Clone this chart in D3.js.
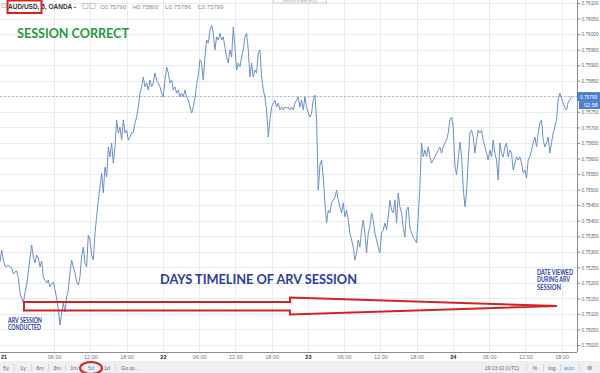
<!DOCTYPE html>
<html>
<head>
<meta charset="utf-8">
<script src="https://cdn.jsdelivr.net/npm/d3@7"></script>
<style>
  html, body { margin: 0; padding: 0; background: #fff; }
  svg { display: block; font-family: 'Liberation Sans', Arial, sans-serif; }
</style>
</head>
<body>
<div id="chart-area"></div>
<script>
const width = 600;
const height = 373;

// AUD/USD, 5 min, OANDA - closes at even spacing
const prices = [
  0.75267, 0.75306, 0.75273, 0.75254, 0.75251, 0.75257, 0.75251, 0.75248, 0.75228, 0.75235,
  0.75238, 0.75215, 0.75167, 0.75151, 0.75135, 0.75167, 0.75193, 0.75235, 0.7528, 0.75322,
  0.75283, 0.75264, 0.75289, 0.7528, 0.75251, 0.7527, 0.75219, 0.75209, 0.75199, 0.75209,
  0.75187, 0.75196, 0.75203, 0.75177, 0.75151, 0.75113, 0.75064, 0.75103, 0.75135, 0.75106,
  0.75154, 0.75177, 0.75232, 0.75273, 0.75251, 0.75232, 0.75203, 0.75193, 0.75219, 0.75286,
  0.75315, 0.75264, 0.75251, 0.75354, 0.75338, 0.75289, 0.75273, 0.7536, 0.75412, 0.75466,
  0.75508, 0.75553, 0.75489, 0.75572, 0.7554, 0.75637, 0.75605, 0.7565, 0.75585, 0.75637,
  0.75724, 0.75682, 0.75701, 0.75659, 0.75724, 0.75682, 0.75691, 0.75659, 0.75669, 0.75682,
  0.75682, 0.75714, 0.75733, 0.75765, 0.7581, 0.7583, 0.75862, 0.7583, 0.75843, 0.7582,
  0.75852, 0.7583, 0.75843, 0.75875, 0.75852, 0.75843, 0.7583, 0.7581, 0.75798, 0.75852,
  0.75894, 0.75875, 0.75843, 0.75852, 0.7582, 0.7583, 0.7581, 0.7582, 0.75798, 0.7581,
  0.75798, 0.7582, 0.75798, 0.75788, 0.75765, 0.75746, 0.75765, 0.75794, 0.75836, 0.75868,
  0.75917, 0.75907, 0.75852, 0.75926, 0.75981, 0.75971, 0.76013, 0.76029, 0.76003, 0.75949,
  0.75991, 0.75981, 0.76003, 0.75981, 0.75991, 0.75958, 0.75926, 0.75907, 0.75949, 0.75926,
  0.76023, 0.75958, 0.75884, 0.75907, 0.75894, 0.75926, 0.75949, 0.75991, 0.76003, 0.75949,
  0.75862, 0.75907, 0.75862, 0.75884, 0.75875, 0.75939, 0.75949, 0.75862, 0.7582, 0.75798,
  0.75756, 0.75669, 0.75724, 0.75765, 0.75778, 0.75788, 0.75765, 0.75778, 0.75756, 0.75765,
  0.75756, 0.75765, 0.75762, 0.75765, 0.75756, 0.75765, 0.75756, 0.75778, 0.75788, 0.75798,
  0.75765, 0.75788, 0.75756, 0.75798, 0.75765, 0.75746, 0.75733, 0.75746, 0.75788, 0.75804,
  0.75724, 0.75498, 0.75579, 0.75595, 0.7554, 0.75457, 0.75392, 0.75434, 0.75425, 0.75457,
  0.75466, 0.75476, 0.75498, 0.75466, 0.75444, 0.75425, 0.75457, 0.75412, 0.75434, 0.75402,
  0.7536, 0.75338, 0.75315, 0.75273, 0.75296, 0.75338, 0.75315, 0.7537, 0.75402, 0.7536,
  0.75296, 0.7536, 0.75379, 0.75425, 0.75402, 0.7536, 0.75338, 0.75315, 0.75296, 0.7536,
  0.7537, 0.75392, 0.7537, 0.75412, 0.75466, 0.75434, 0.75425, 0.75466, 0.75392, 0.75489,
  0.75444, 0.75425, 0.75379, 0.75347, 0.75434, 0.75444, 0.75379, 0.7536, 0.75347, 0.75338,
  0.75328, 0.75412, 0.75508, 0.7565, 0.75605, 0.75627, 0.75605, 0.75637, 0.75605, 0.75585,
  0.75595, 0.75605, 0.75617, 0.75627, 0.75637, 0.75617, 0.75637, 0.7565, 0.75659, 0.75682,
  0.75724, 0.75733, 0.75701, 0.75579, 0.75547, 0.75595, 0.75653, 0.75611, 0.75508, 0.75444,
  0.75489, 0.75595, 0.75682, 0.75691, 0.75669, 0.75617, 0.75659, 0.75691, 0.75682, 0.75691,
  0.75659, 0.75637, 0.75617, 0.75595, 0.75627, 0.75605, 0.75659, 0.75617, 0.75595, 0.75531,
  0.7565, 0.75617, 0.75605, 0.75637, 0.7565, 0.75605, 0.75627, 0.75617, 0.75563, 0.75585,
  0.75605, 0.75595, 0.75605, 0.75585, 0.75553, 0.75563, 0.75537, 0.75595, 0.75605, 0.75627,
  0.7565, 0.75669, 0.75637, 0.75682, 0.75714, 0.75724, 0.75659, 0.75637, 0.7565, 0.75669,
  0.75617, 0.7565, 0.75682, 0.75701, 0.75724, 0.75788, 0.7581, 0.75794, 0.75778, 0.75765,
  0.75756, 0.75781, 0.75788, 0.75799
];
const firstReading = Date.UTC(2017, 10, 20, 21, 2);
const lastVisible = Date.UTC(2017, 10, 24, 20, 33);
const readingEveryMinutes = 16.55;
const lastPrice = 0.75799;
const countdown = '02:58';

const yTicks = [
  0.75, 0.7505, 0.751, 0.7515, 0.752, 0.7525, 0.753, 0.7535, 0.754, 0.7545, 0.755, 0.7555,
  0.756, 0.7565, 0.757, 0.7575, 0.758, 0.7585, 0.759, 0.7595, 0.76, 0.7605, 0.761
];
const xTickTimes = [
  '2017-11-20T21:02Z', '2017-11-21T06:00Z', '2017-11-21T12:00Z', '2017-11-21T18:00Z',
  '2017-11-22T00:00Z', '2017-11-22T06:00Z', '2017-11-22T12:00Z', '2017-11-22T18:00Z',
  '2017-11-23T00:00Z', '2017-11-23T06:00Z', '2017-11-23T12:00Z', '2017-11-23T18:00Z',
  '2017-11-24T00:00Z', '2017-11-24T06:00Z', '2017-11-24T12:00Z', '2017-11-24T18:00Z'
];
const xTickLabels = [
  '21', '06:00', '12:00', '18:00', '22', '06:00', '12:00', '18:00',
  '23', '06:00', '12:00', '18:00', '24', '06:00', '12:00', '18:00'
];
const ohlc = ['O0.75790', 'H0.75800', 'L0.75786', 'C0.75799'];
const rangeButtons = ['5y', '1y', '6m', '3m', '1m', '5d', '1d', 'Go to...'];
const rightButtons = ['19:13:02 (UTC)', '%', 'log', 'auto', '\u2699'];

const paneRight = 577;
const paneBottom = 352;
const red = '#d42222';
const noteBlue = '#2b3ca6';
const fmt = d3.format('.5f');

const svg = d3
  .select('#chart-area')
  .append('svg')
  .attr('width', width)
  .attr('height', height)
  .attr('viewBox', [0, 0, width, height]);

svg.append('rect').attr('width', width).attr('height', height).attr('fill', '#fff');

const x = d3
  .scaleUtc()
  .domain([new Date(firstReading), new Date(lastVisible)])
  .range([0, paneRight]);
const y = d3.scaleLinear().domain([0.75, 0.761]).range([345, 3]);

const data = prices.map((p, i) => ({
  date: new Date(firstReading + i * readingEveryMinutes * 60000),
  price: p,
}));
const tickDates = xTickTimes.map((t) => new Date(t));

// grid
const grid = svg.append('g').attr('stroke', '#e8ecf1').attr('shape-rendering', 'crispEdges');
grid
  .selectAll('line.h')
  .data(yTicks)
  .join('line')
  .attr('class', 'h')
  .attr('x1', 0)
  .attr('x2', paneRight)
  .attr('y1', (d) => Math.round(y(d)) + 0.5)
  .attr('y2', (d) => Math.round(y(d)) + 0.5);
grid
  .selectAll('line.v')
  .data(tickDates.slice(1))
  .join('line')
  .attr('class', 'v')
  .attr('x1', (d) => Math.round(x(d)) + 0.5)
  .attr('x2', (d) => Math.round(x(d)) + 0.5)
  .attr('y1', 0)
  .attr('y2', paneBottom);

// last price dotted line
svg
  .append('line')
  .attr('x1', 0)
  .attr('x2', paneRight)
  .attr('y1', y(lastPrice))
  .attr('y2', y(lastPrice))
  .attr('stroke', '#a6bcdc')
  .attr('stroke-dasharray', '2,2');

// price line
const line = d3
  .line()
  .x((d) => x(d.date))
  .y((d) => y(d.price));
svg
  .append('path')
  .datum(data)
  .attr('d', line)
  .attr('fill', 'none')
  .attr('stroke', '#6a90ca')
  .attr('stroke-width', 1);

// right price axis (the tick under the last price marker is hidden, as in TradingView)
const yAxis = svg
  .append('g')
  .attr('transform', `translate(${paneRight},0)`)
  .call(
    d3
      .axisRight(y)
      .tickValues(yTicks)
      .tickFormat((d) => (Math.abs(d - lastPrice) < 0.0001 ? '' : fmt(d)))
      .tickSize(3)
      .tickSizeOuter(0)
      .tickPadding(1.5)
  );
yAxis.select('.domain').remove();
yAxis.selectAll('line').attr('stroke', '#888');
yAxis
  .selectAll('text')
  .attr('font-size', 5.5)
  .attr('fill', '#666')
  .attr('font-family', 'Liberation Sans')
  .attr('textLength', function () {
    return this.textContent ? 17 : null;
  })
  .attr('lengthAdjust', 'spacingAndGlyphs');
svg
  .append('line')
  .attr('x1', paneRight + 0.5)
  .attr('x2', paneRight + 0.5)
  .attr('y1', 0)
  .attr('y2', paneBottom)
  .attr('stroke', '#8c8c8c');

// bottom time axis
const xAxis = svg
  .append('g')
  .attr('transform', `translate(0,${paneBottom})`)
  .call(
    d3
      .axisBottom(x)
      .tickValues(tickDates)
      .tickFormat((d, i) => xTickLabels[i])
      .tickSize(0)
      .tickPadding(3)
  );
xAxis.select('.domain').remove();
xAxis
  .selectAll('text')
  .attr('font-size', 5.5)
  .attr('fill', (d, i) => (xTickLabels[i].includes(':') ? '#777' : '#222'))
  .attr('font-weight', (d, i) => (xTickLabels[i].includes(':') ? 'normal' : 'bold'))
  .attr('font-family', 'Liberation Sans')
  // first label sits at the very edge of the pane
  .attr('text-anchor', (d, i) => (i === 0 ? 'start' : 'middle'))
  .attr('x', (d, i) => (i === 0 ? 0.5 : 0));
svg
  .append('line')
  .attr('x1', 0)
  .attr('x2', paneRight)
  .attr('y1', paneBottom + 0.5)
  .attr('y2', paneBottom + 0.5)
  .attr('stroke', '#8c8c8c');

// last price marker
const py = y(lastPrice);
svg.append('rect').attr('x', paneRight).attr('y', py - 4.5).attr('width', 23).attr('height', 9).attr('fill', '#4a7fd0');
svg
  .append('text')
  .attr('x', paneRight + 3)
  .attr('y', py + 2)
  .attr('font-size', 5.5)
  .attr('fill', '#fff')
  .attr('textLength', 17)
  .attr('lengthAdjust', 'spacingAndGlyphs')
  .text(fmt(lastPrice));
svg.append('rect').attr('x', paneRight + 2).attr('y', py + 4.5).attr('width', 21).attr('height', 8).attr('fill', '#4a7fd0');
svg
  .append('text')
  .attr('x', paneRight + 7)
  .attr('y', py + 10.5)
  .attr('font-size', 5.5)
  .attr('fill', '#fff')
  .text(countdown);

// header
const header = svg.append('g').attr('font-size', 6.5);
header.append('text').attr('x', 1).attr('y', 8).attr('fill', '#aaa').text('\u229f');
header
  .append('text')
  .attr('x', 8)
  .attr('y', 8.5)
  .attr('fill', '#333')
  .attr('font-weight', 'bold')
  .text('AUD/USD, 5, OANDA -');
header
  .selectAll('rect.icon')
  .data([83, 90])
  .join('rect')
  .attr('class', 'icon')
  .attr('x', (d) => d)
  .attr('y', 3.5)
  .attr('width', 5)
  .attr('height', 5)
  .attr('fill', 'none')
  .attr('stroke', '#bbb')
  .attr('stroke-width', 0.8);
header
  .selectAll('text.ohlc')
  .data(ohlc)
  .join('text')
  .attr('class', 'ohlc')
  .attr('x', (d, i) => 100 + i * 32.5)
  .attr('y', 8.5)
  .attr('fill', '#8a8a8a')
  .attr('font-size', 6)
  .attr('textLength', 26)
  .text((d) => d);
svg
  .append('rect')
  .attr('x', 7.5)
  .attr('y', 0.5)
  .attr('width', 34)
  .attr('height', 12.5)
  .attr('fill', 'none')
  .attr('stroke', red)
  .attr('stroke-width', 2);

// small hint box cut off at the top
svg
  .append('rect')
  .attr('x', 273.5)
  .attr('y', -4)
  .attr('width', 53)
  .attr('height', 7)
  .attr('fill', '#fff')
  .attr('stroke', '#ccc');
svg
  .append('text')
  .attr('x', 300)
  .attr('y', 1.8)
  .attr('text-anchor', 'middle')
  .attr('font-size', 3.5)
  .attr('fill', '#999')
  .text('Exit Full Screen (F11)');

// bottom toolbar
const bar = svg.append('g');
bar.append('rect').attr('x', 0).attr('y', 361).attr('width', width).attr('height', 12).attr('fill', '#eef0f3');
const buttonX = [6, 23, 40, 57, 74, 91, 107, 130];
bar
  .selectAll('text.range')
  .data(rangeButtons)
  .join('text')
  .attr('class', 'range')
  .attr('x', (d, i) => buttonX[i])
  .attr('y', 369.5)
  .attr('text-anchor', 'middle')
  .attr('font-size', 5.5)
  .attr('fill', (d) => (d === '5d' ? '#3a96e6' : '#666'))
  .text((d) => d);
bar
  .selectAll('line.sep')
  .data([14.5, 31.5, 48.5, 65.5, 82.5, 99.5, 115.5])
  .join('line')
  .attr('class', 'sep')
  .attr('x1', (d) => d)
  .attr('x2', (d) => d)
  .attr('y1', 364)
  .attr('y2', 371)
  .attr('stroke', '#d3d6db');
const rightX = [502, 535, 552, 569, 589];
bar
  .selectAll('text.right')
  .data(rightButtons)
  .join('text')
  .attr('class', 'right')
  .attr('x', (d, i) => rightX[i])
  .attr('y', 369.5)
  .attr('text-anchor', 'middle')
  .attr('font-size', (d, i) => (i === 0 ? 5 : 5.5))
  .attr('fill', (d) => (d === 'auto' ? '#3a96e6' : '#666'))
  .text((d) => d);
bar
  .selectAll('line.rsep')
  .data([526.5, 543.5, 560.5, 579.5])
  .join('line')
  .attr('class', 'rsep')
  .attr('x1', (d) => d)
  .attr('x2', (d) => d)
  .attr('y1', 364)
  .attr('y2', 371)
  .attr('stroke', '#d3d6db');
svg
  .append('ellipse')
  .attr('cx', 91)
  .attr('cy', 368)
  .attr('rx', 11)
  .attr('ry', 6)
  .attr('fill', 'none')
  .attr('stroke', red)
  .attr('stroke-width', 2);

// annotations
const notes = svg.append('g').attr('font-family', 'Lato, "Open Sans", sans-serif').attr('font-weight', 'bold');
notes
  .append('text')
  .attr('x', 17)
  .attr('y', 38.3)
  .attr('font-size', 14)
  .attr('fill', '#1f9b3f')
  .attr('textLength', 112)
  .attr('lengthAdjust', 'spacingAndGlyphs')
  .text('SESSION CORRECT');
notes
  .append('text')
  .attr('x', 160)
  .attr('y', 284)
  .attr('font-size', 14)
  .attr('fill', noteBlue)
  .attr('textLength', 197)
  .attr('lengthAdjust', 'spacingAndGlyphs')
  .text('DAYS TIMELINE OF ARV SESSION');

const leftNote = [
  { t: 'ARV SESSION', y: 322.5, w: 34 },
  { t: 'CONDUCTED', y: 329.8, w: 33 },
];
notes
  .selectAll('text.left')
  .data(leftNote)
  .join('text')
  .attr('class', 'left')
  .attr('x', 8)
  .attr('y', (d) => d.y)
  .attr('font-size', 6.5)
  .attr('fill', noteBlue)
  .attr('textLength', (d) => d.w)
  .attr('lengthAdjust', 'spacingAndGlyphs')
  .text((d) => d.t);
const rightNote = [
  { t: 'DATE VIEWED', y: 274.8, w: 36 },
  { t: 'DURING ARV', y: 282.3, w: 33 },
  { t: 'SESSION', y: 289.8, w: 24 },
];
notes
  .selectAll('text.rnote')
  .data(rightNote)
  .join('text')
  .attr('class', 'rnote')
  .attr('x', 537)
  .attr('y', (d) => d.y)
  .attr('font-size', 6.5)
  .attr('fill', noteBlue)
  .attr('textLength', (d) => d.w)
  .attr('lengthAdjust', 'spacingAndGlyphs')
  .text((d) => d.t);

// the long red arrow
const arrow = [
  [24, 302],
  [290, 302],
  [290, 297.5],
  [557, 306],
  [290, 314.5],
  [290, 310.5],
  [24, 310.5],
];
svg
  .append('path')
  .attr('d', d3.line()(arrow) + 'Z')
  .attr('fill', 'none')
  .attr('stroke', red)
  .attr('stroke-width', 2)
  .attr('stroke-linejoin', 'miter');
</script>
</body>
</html>
